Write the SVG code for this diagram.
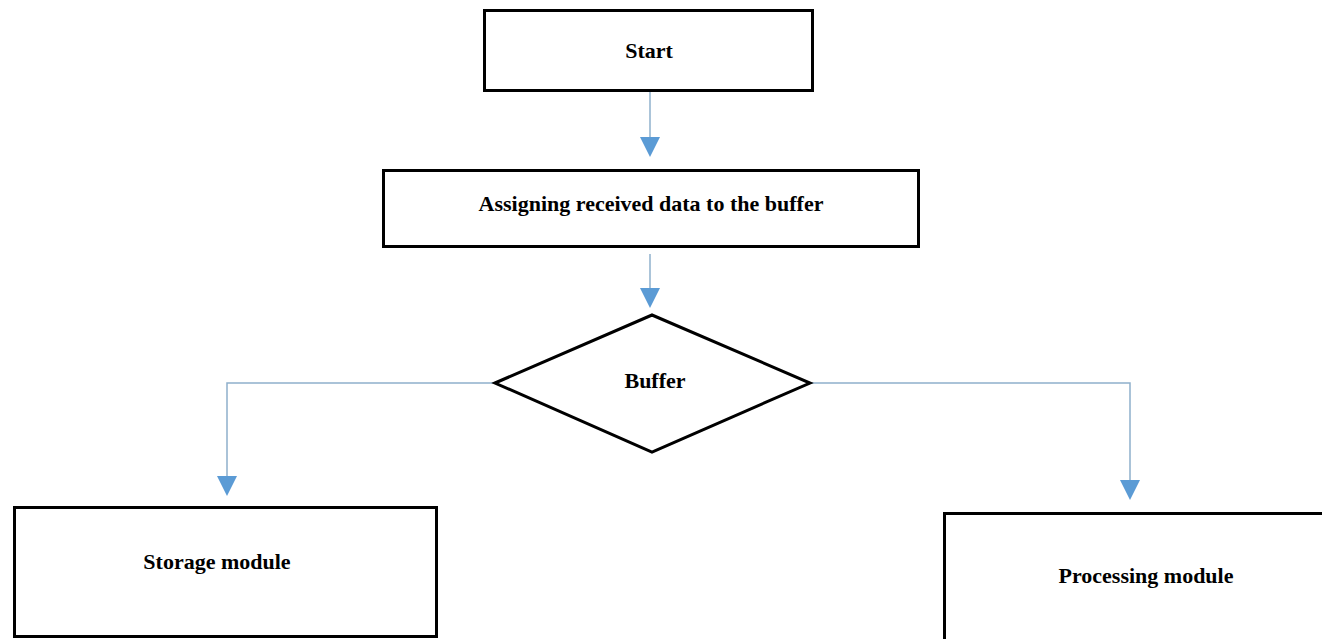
<svg xmlns="http://www.w3.org/2000/svg" width="1322" height="639" viewBox="0 0 1322 639">
<style>
.box{fill:#fff;stroke:#000;stroke-width:3}
.lbl{font-family:"Liberation Serif","Times New Roman",serif;font-weight:bold;font-size:22px;fill:#000;text-anchor:middle}
.conn{fill:none;stroke:#8fb0cc;stroke-width:1.5}
.head{fill:#5b9bd5}
</style>
<rect width="1322" height="639" fill="#fff"/>
<g id="connectors">
<line class="conn" x1="650" y1="92" x2="650" y2="138"/>
<polygon class="head" points="640,137 660,137 650,157"/>
<line class="conn" x1="650" y1="254" x2="650" y2="289"/>
<polygon class="head" points="640,288 660,288 650,308"/>
<polyline class="conn" points="495,383 227,383 227,477"/>
<polygon class="head" points="217,476 237,476 227,496"/>
<polyline class="conn" points="810,383 1130,383 1130,481"/>
<polygon class="head" points="1120,480 1140,480 1130,500"/>
</g>
<g id="start">
<rect class="box" x="484.5" y="10.5" width="328" height="80"/>
<text class="lbl" x="649" y="58">Start</text>
</g>
<g id="assign">
<rect class="box" x="383.5" y="170.5" width="535" height="76"/>
<text class="lbl" x="651" y="211">Assigning received data to the buffer</text>
</g>
<g id="buffer">
<polygon class="box" points="495,383 652,315 810,383 652,452"/>
<text class="lbl" x="655" y="388">Buffer</text>
</g>
<g id="storage">
<rect class="box" x="14.5" y="507.5" width="422" height="129"/>
<text class="lbl" x="217" y="569">Storage module</text>
</g>
<g id="processing">
<rect class="box" x="944.5" y="513.5" width="390" height="140"/>
<text class="lbl" x="1146" y="583">Processing module</text>
</g>
</svg>
